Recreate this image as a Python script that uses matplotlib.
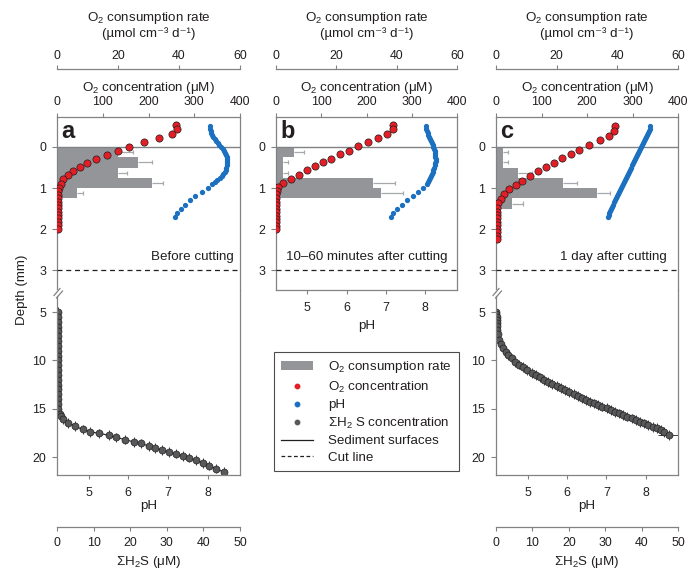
import matplotlib.pyplot as plt
from matplotlib.patches import Patch
from matplotlib.lines import Line2D

plt.rcParams['font.family'] = ['Liberation Sans', 'DejaVu Sans']
plt.rcParams['mathtext.fontset'] = 'custom'
plt.rcParams['mathtext.rm'] = 'Liberation Sans'
plt.rcParams['mathtext.it'] = 'Liberation Sans:italic'
plt.rcParams['mathtext.bf'] = 'Liberation Sans:bold'
plt.rcParams['font.size'] = 8.9

LABEL_FS = 9.6

# ---------------- data (depth in mm) ----------------
# O2 consumption rate, one bar per 0.25 mm slice (top edge of slice)
rate_a_depth = [0, 0.25, 0.5, 0.75, 1.0]
rate_a = [20.0, 26.7, 20.0, 31.0, 6.4]
rate_a_err = [5.0, 4.4, 2.8, 3.8, 2.2]
rate_b_depth = [0, 0.25, 0.5, 0.75, 1.0]
rate_b = [6.0, 2.4, 2.4, 32.0, 34.7]
rate_b_err = [3.3, 1.7, 1.7, 7.5, 7.5]
rate_c_depth = [0, 0.25, 0.5, 0.75, 1.0, 1.25]
rate_c = [2.4, 2.4, 7.4, 22.0, 33.2, 5.2]
rate_c_err = [1.6, 1.6, 4.4, 4.8, 4.4, 3.8]

# O2 concentration (uM)
o2_a_depth = [-0.54, -0.43, -0.31, -0.21, -0.11, -0.01, 0.09, 0.19, 0.29, 0.39, 0.49,
              0.59, 0.69, 0.79, 0.89, 0.99, 1.08, 1.16, 1.24, 1.33, 1.41, 1.49, 1.58,
              1.66, 1.74, 1.83, 1.91, 2.0]
o2_a = [260, 262, 251, 223, 191, 158, 133, 109, 86, 66, 50, 36, 23, 14, 8, 4,
        3, 3, 3, 3, 3, 3, 3, 3, 3, 3, 3, 3]
o2_b_depth = [-0.54, -0.43, -0.32, -0.23, -0.13, -0.02, 0.09, 0.18, 0.28, 0.37, 0.47,
              0.57, 0.67, 0.78, 0.87, 0.97, 1.07, 1.15, 1.24, 1.33, 1.41, 1.5, 1.58,
              1.67, 1.75, 1.83, 1.92, 2.0]
o2_b = [259, 259, 246, 226, 204, 182, 161, 141, 122, 104, 86, 68, 51, 33, 16, 5, 2,
        0, 0, 0, 0, 0, 0, 0, 0, 0, 0, 0]
o2_c_depth = [-0.5, -0.38, -0.27, -0.16, -0.04, 0.07, 0.17, 0.27, 0.38, 0.48, 0.59,
              0.71, 0.82, 0.93, 1.03, 1.14, 1.26, 1.37, 1.48, 1.57, 1.65, 1.74, 1.83,
              1.91, 2.0, 2.08, 2.17, 2.25]
o2_c = [261, 259, 249, 229, 205, 183, 164, 146, 127, 109, 92, 75, 58, 43, 29, 18, 10,
        5, 2, 1.5, 1.5, 1.5, 1.5, 1.5, 1.5, 1.5, 1.5, 1.5]

# pH
ph_a_depth = [-0.5, -0.45, -0.4, -0.35, -0.3, -0.25, -0.2, -0.15, -0.1, -0.05, 0.0,
              0.05, 0.1, 0.15, 0.2, 0.25, 0.3, 0.35, 0.4, 0.45, 0.5, 0.55, 0.6, 0.65,
              0.7, 0.75, 0.8, 0.85, 0.9, 1.0, 1.1, 1.2, 1.3, 1.4, 1.5, 1.6, 1.7]
ph_a = [8.07, 8.07, 8.08, 8.10, 8.12, 8.15, 8.18, 8.22, 8.26, 8.30, 8.34, 8.38, 8.42,
        8.45, 8.47, 8.48, 8.49, 8.49, 8.49, 8.48, 8.47, 8.46, 8.43, 8.40, 8.36, 8.31,
        8.25, 8.19, 8.12, 8.00, 7.85, 7.69, 7.55, 7.42, 7.32, 7.24, 7.19]
ph_b_depth = ph_a_depth
ph_b = [8.03, 8.04, 8.05, 8.07, 8.09, 8.11, 8.14, 8.16, 8.18, 8.20, 8.22, 8.23, 8.25,
        8.26, 8.27, 8.27, 8.28, 8.28, 8.27, 8.26, 8.24, 8.22, 8.20, 8.18, 8.16, 8.14,
        8.11, 8.08, 8.05, 7.96, 7.82, 7.69, 7.55, 7.41, 7.29, 7.19, 7.13]
ph_c_depth = [-0.5, -0.45, -0.4, -0.35, -0.3, -0.25, -0.2, -0.15, -0.1, -0.05, 0.0,
              0.05, 0.1, 0.15, 0.2, 0.25, 0.3, 0.35, 0.4, 0.45, 0.5, 0.55, 0.6, 0.65,
              0.7, 0.75, 0.8, 0.85, 0.9, 0.95, 1.0, 1.05, 1.1, 1.15, 1.2, 1.25, 1.3,
              1.35, 1.4, 1.45, 1.5, 1.55, 1.6, 1.65, 1.7]
ph_c = [8.11, 8.10, 8.08, 8.06, 8.04, 8.02, 7.99, 7.96, 7.94, 7.91, 7.88, 7.86, 7.83,
        7.81, 7.78, 7.76, 7.73, 7.71, 7.68, 7.66, 7.63, 7.61, 7.58, 7.56, 7.53, 7.51,
        7.48, 7.46, 7.43, 7.41, 7.38, 7.35, 7.32, 7.30, 7.27, 7.24, 7.22, 7.19, 7.17,
        7.14, 7.12, 7.10, 7.08, 7.06, 7.05]

# sum H2S (uM)
h2s_a_depth = [5.0, 5.5, 6.0, 6.5, 7.0, 7.5, 8.0, 8.5, 9.0, 9.5, 10.0, 10.5, 11.0, 11.5,
               12.0, 12.5, 13.0, 13.5, 14.0, 14.5, 15.0, 15.5, 15.8, 16.1, 16.45, 16.8,
               17.15, 17.4, 17.56, 17.74, 17.98, 18.19, 18.44, 18.6, 18.85, 19.06, 19.3,
               19.47, 19.64, 19.89, 20.05, 20.33, 20.61, 20.88, 21.2, 21.55]
h2s_a = [0.4, 0.4, 0.4, 0.4, 0.4, 0.4, 0.4, 0.4, 0.4, 0.4, 0.4, 0.4, 0.4, 0.4, 0.4, 0.4,
         0.4, 0.4, 0.4, 0.4, 0.4, 0.8, 1.2, 1.7, 3.1, 4.9, 7.0, 9.1, 11.6, 14.1, 16.2,
         18.5, 21.0, 23.0, 25.0, 26.9, 28.8, 30.6, 32.4, 34.3, 36.1, 37.9, 39.8, 41.6,
         43.4, 45.5]
h2s_c_depth = [5.0, 5.25, 5.5, 5.8, 6.1, 6.4, 6.86, 7.3, 7.9, 8.3, 8.75, 9.1, 9.45, 9.8,
               10.14, 10.43, 10.72, 11.0, 11.28, 11.52, 11.76, 12.0, 12.21, 12.44, 12.66,
               12.87, 13.07, 13.28, 13.48, 13.7, 13.93, 14.1, 14.28, 14.45, 14.62, 14.79,
               14.96, 15.13, 15.31, 15.48, 15.65, 15.82, 16.0, 16.17, 16.35, 16.52, 16.69,
               16.86, 17.03, 17.2, 17.38, 17.72]
h2s_c = [0.1, 0.1, 0.15, 0.2, 0.25, 0.3, 0.4, 0.6, 0.9, 1.4, 2.0, 2.7, 3.4, 4.3, 5.2,
         6.3, 7.5, 8.6, 9.8, 10.9, 12.1, 13.3, 14.4, 15.5, 16.7, 17.8, 19.0, 20.1, 21.3,
         22.4, 23.5, 24.6, 25.8, 26.9, 28.1, 29.2, 30.4, 31.5, 32.7, 33.8, 35.0, 36.1,
         37.3, 38.4, 39.6, 40.7, 41.8, 43.0, 44.1, 45.2, 46.2, 47.4]

notes = ['Before cutting', '10\u201360 minutes after cutting', '1 day after cutting']
letters = ['a', 'b', 'c']

# ---------------- style ----------------
RED = '#e41e26'
BLUE = '#1b70c0'
BAR = '#939598'
BARERR = '#a7a9ac'
H2S = '#58595b'
SPINE = '#808285'
TXT = '#231f20'

W, H = 700, 569
fig = plt.figure(figsize=(7, 5.69), dpi=100)


def box(x0, y0, x1, y1):
    return [x0 / W, 1 - y1 / H, (x1 - x0) / W, (y1 - y0) / H]


def ftext(x, y, s, **kw):
    kw.setdefault('fontsize', LABEL_FS)
    fig.text(x / W, 1 - y / H, s, color=TXT, **kw)


def style(ax):
    for sp in ax.spines.values():
        sp.set_color(SPINE)
        sp.set_linewidth(0.9)
    ax.tick_params(direction='out', length=3, width=0.8, color=SPINE, labelcolor=TXT)


def upper(x0, x1, letter, note, nx, nha, rd, rv, re, od, ov, pd, pv, boxed):
    ax = fig.add_axes(box(x0, 117, x1, 290))
    ax_o = ax.twiny()
    ax_p = ax.twiny()
    for a in (ax, ax_o, ax_p):
        style(a)
        a.set_ylim(3.48, -0.73)

    # consumption rate bars
    ax.set_xlim(0, 60)
    ax.barh(rd, rv, height=0.25, align='edge', color=BAR, lw=0)
    mids = [d + 0.125 for d in rd]
    ends = [v + e for v, e in zip(rv, re)]
    ax.hlines(mids, rv, ends, color=BARERR, lw=0.9)
    ax.vlines(ends, [m - 0.05 for m in mids], [m + 0.05 for m in mids], color=BARERR, lw=0.9)
    ax.xaxis.tick_top()
    ax.set_xticks([0, 20, 40, 60])
    ax.spines['top'].set_position(('outward', 34.56))
    ax.spines['bottom'].set_visible(False)
    ax.tick_params(axis='x', pad=1.8)
    ax.set_yticks([0, 1, 2, 3])
    ax.tick_params(axis='y', length=3.5, pad=4.4)

    # O2 concentration
    ax_o.set_xlim(0, 400)
    ax_o.set_xticks([0, 100, 200, 300, 400])
    ax_o.tick_params(axis='x', pad=3.3)
    for s in ('left', 'right', 'bottom'):
        ax_o.spines[s].set_visible(False)
    ax_o.axhline(0, color=SPINE, lw=1.0)
    ax_o.axhline(3, color=TXT, lw=0.9, ls=(0, (4, 3)))
    ax_o.errorbar(ov, od, yerr=0.06, fmt='o', ms=5.2, mfc=RED, mec=TXT, mew=0.5,
                  ecolor=TXT, elinewidth=0.7, capsize=1.5, zorder=3)

    # pH
    ax_p.set_xlim(4.2, 8.82)
    for s in ('left', 'right', 'top', 'bottom'):
        ax_p.spines[s].set_visible(False)
    if boxed:
        ax_p.xaxis.tick_bottom()
        ax_p.set_xticks([5, 6, 7, 8])
        ax_p.tick_params(axis='x', pad=5.8)
        ax_p.spines['bottom'].set_visible(True)
    else:
        ax_p.set_xticks([])
    ax_p.errorbar(pv, pd, xerr=0.04, fmt='o', ms=3.8, mfc=BLUE, mec=BLUE, mew=0,
                  ecolor=TXT, elinewidth=0.6, capsize=1.3, zorder=3)

    ax.xaxis.tick_top()
    ax.text(0.025, -0.23, letter, transform=ax.get_yaxis_transform(), fontsize=17,
            fontweight='bold', color=TXT, va='baseline')
    ax.text(nx, 2.76, note, transform=ax.get_yaxis_transform(), ha=nha, color=TXT,
            va='baseline', fontsize=LABEL_FS)

    xc = (x0 + x1) / 2
    ftext(xc, 21.5, r'O$_2$ consumption rate', ha='center', va='baseline')
    ftext(xc, 37.5, '(\u00b5mol cm\u207b\u00b3 d\u207b\u00b9)', ha='center', va='baseline')
    ftext(xc, 91, r'O$_2$ concentration ($\mathrm{\mu}$M)', ha='center', va='baseline')
    return ax


def lower(x0, x1, hd, hv, hxerr):
    ax = fig.add_axes(box(x0, 290, x1, 475))
    ax_p = ax.twiny()
    for a in (ax, ax_p):
        style(a)
        a.set_ylim(21.86, 2.72)
    ax.set_xlim(0, 50)
    ax.xaxis.tick_bottom()
    ax.set_xticks([0, 10, 20, 30, 40, 50])
    ax.spines['bottom'].set_position(('outward', 37.44))
    ax.spines['top'].set_visible(False)
    ax.spines['left'].set_bounds(21.86, 3.35)
    ax.tick_params(axis='x', pad=4.0)
    ax.set_yticks([5, 10, 15, 20])
    ax.tick_params(axis='y', length=3.5, pad=4.4)
    ax.errorbar(hv, hd, yerr=0.5, xerr=hxerr, fmt='-o', ms=5.0, mfc=H2S, mec=TXT,
                mew=0.5, color=TXT, lw=0.8, ecolor=TXT, elinewidth=0.6, capsize=0)

    ax_p.set_xlim(4.2, 8.82)
    ax_p.xaxis.tick_bottom()
    ax_p.set_xticks([5, 6, 7, 8])
    ax_p.tick_params(axis='x', pad=5.8)
    for s in ('left', 'right', 'top'):
        ax_p.spines[s].set_visible(False)

    xc = (x0 + x1) / 2
    ftext(xc, 508.5, 'pH', ha='center', va='baseline')
    ftext(xc, 565, r'$\Sigma$H$_2$S ($\mathrm{\mu}$M)', ha='center', va='baseline')

    # axis break marks on left spine
    for dx, dy in [(0, 0), (2.5, 2.5)]:
        fig.add_artist(Line2D([(x0 - 3 + dx) / W, (x0 + 3 + dx) / W],
                              [1 - (295.5 + dy) / H, 1 - (288.5 + dy) / H],
                              color=SPINE, lw=0.9))
    return ax


upper(57, 240, letters[0], notes[0], 0.965, 'right',
      rate_a_depth, rate_a, rate_a_err, o2_a_depth, o2_a, ph_a_depth, ph_a, False)
lower(57, 240, h2s_a_depth, h2s_a, None)

upper(276, 457, letters[1], notes[1], 0.5, 'center',
      rate_b_depth, rate_b, rate_b_err, o2_b_depth, o2_b, ph_b_depth, ph_b, True)
ftext(366.5, 329.5, 'pH', ha='center', va='baseline')

c_xerr = [0] * (len(h2s_c) - 1) + [3.0]
upper(496, 678, letters[2], notes[2], 0.94, 'right',
      rate_c_depth, rate_c, rate_c_err, o2_c_depth, o2_c, ph_c_depth, ph_c, False)
lower(496, 678, h2s_c_depth, h2s_c, c_xerr)

ftext(22, 290, 'Depth (mm)', rotation=90, ha='center', va='center')

# legend
handles = [
    Patch(facecolor=BAR, edgecolor='none'),
    Line2D([], [], ls='', marker='o', ms=3.2, color=RED),
    Line2D([], [], ls='', marker='o', ms=3.2, color=BLUE),
    Line2D([], [], ls='', marker='o', ms=3.2, color=H2S),
    Line2D([], [], color=TXT, lw=0.9),
    Line2D([], [], color=TXT, lw=0.9, ls=(0, (3, 2))),
]
labels = [r'O$_2$ consumption rate', r'O$_2$ concentration', 'pH',
          r'$\Sigma$H$_2$ S concentration', 'Sediment surfaces', 'Cut line']
leg = fig.legend(handles, labels, loc='upper left', bbox_to_anchor=(274 / W, 1 - 352 / H),
                 frameon=True, fancybox=False, edgecolor=TXT, borderaxespad=0,
                 borderpad=0.55, labelspacing=0.32, handlelength=2.4, handletextpad=1.1,
                 fontsize=LABEL_FS)
leg.get_frame().set_linewidth(0.8)
for t in leg.get_texts():
    t.set_color(TXT)

fig.savefig('out.png', dpi=100)
